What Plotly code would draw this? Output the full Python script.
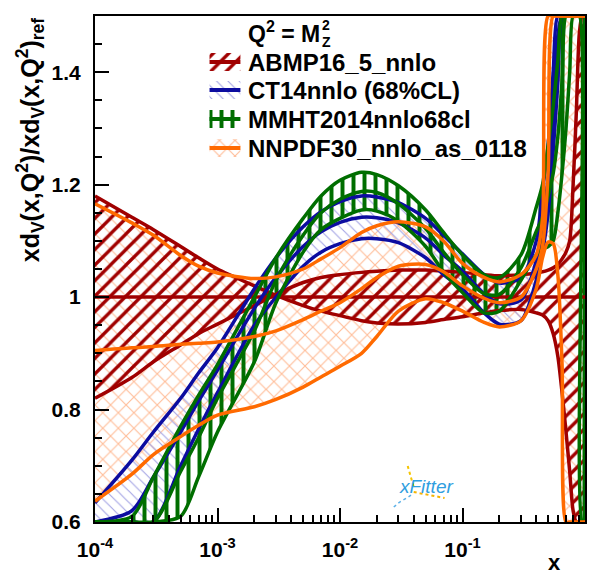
import numpy as np
import plotly.graph_objects as go

# ---------------------------------------------------------------------------
# d-valence ratio to the reference PDF at Q^2 = M_Z^2
# ---------------------------------------------------------------------------
x_grid = [1e-4, 2e-4, 3e-4, 5e-4, 7e-4, 1e-3, 2e-3, 3e-3, 5e-3, 7e-3,
          1e-2, 1.5e-2, 2e-2, 3e-2, 5e-2, 7e-2, 0.1, 0.15, 0.2, 0.3,
          0.4, 0.45, 0.5, 0.55, 0.6, 0.65, 0.7, 0.75, 0.8, 0.85, 0.9, 0.95, 1.0]

# ABMP16 (reference set): two eigenvector envelopes and the central ratio
abmp_edge_a = [1.18, 1.142, 1.12, 1.09, 1.07, 1.05, 1.02, 1.003, 0.985, 0.975,
               0.967, 0.958, 0.954, 0.952, 0.955, 0.96, 0.965, 0.972, 0.976, 0.978,
               0.972, 0.968, 0.958, 0.935, 0.895, 0.83, 0.76, 0.69, 0.62, 0.53, 0.45, 0.35, 0.25]
abmp_edge_b = [0.82, 0.857, 0.885, 0.915, 0.935, 0.952, 0.985, 1.005, 1.026, 1.035,
               1.04, 1.044, 1.046, 1.048, 1.048, 1.046, 1.044, 1.04, 1.038, 1.04,
               1.043, 1.045, 1.048, 1.052, 1.058, 1.068, 1.08, 1.1, 1.2, 1.33, 1.47, 1.62, 1.8]
abmp_central = [1.0, 1.0, 1.0, 1.0, 1.0, 1.0, 1.0, 1.0, 1.0, 1.0,
                1.0, 1.0, 1.0, 1.0, 1.0, 1.0, 1.0, 1.0, 1.0, 1.0,
                1.0, 1.0, 1.0, 1.0, 1.0, 1.0, 1.0, 1.0, 1.0, 1.0, 1.0, 1.0, 1.0]

ct14_upper = [0.634, 0.71, 0.76, 0.82, 0.865, 0.91, 1.015, 1.07, 1.125, 1.152,
              1.17, 1.18, 1.178, 1.168, 1.14, 1.11, 1.077, 1.04, 1.025, 1.035,
              1.1, 1.19, 1.27, 1.4, 1.55, 1.75, 2.0, 2.2, 2.4, 2.6, 2.8, 3.0, 3.2]
ct14_central = [0.54, 0.62, 0.68, 0.76, 0.815, 0.87, 0.98, 1.035, 1.09, 1.116,
                1.133, 1.142, 1.141, 1.132, 1.105, 1.075, 1.046, 1.006, 0.988, 0.995,
                1.065, 1.135, 1.21, 1.33, 1.465, 1.62, 1.85, 2.05, 2.25, 2.45, 2.65, 2.85, 3.0]
ct14_lower = [0.45, 0.53, 0.6, 0.7, 0.765, 0.83, 0.95, 1.0, 1.055, 1.08,
              1.095, 1.104, 1.104, 1.097, 1.07, 1.04, 1.015, 0.972, 0.952, 0.958,
              1.03, 1.08, 1.15, 1.26, 1.38, 1.5, 1.7, 1.9, 2.1, 2.3, 2.5, 2.7, 2.9]

mmht_upper = [0.5, 0.61, 0.68, 0.77, 0.825, 0.88, 1.0, 1.07, 1.14, 1.18,
              1.208, 1.222, 1.218, 1.198, 1.155, 1.115, 1.075, 1.04, 1.035, 1.075,
              1.16, 1.2, 1.27, 1.34, 1.42, 1.55, 1.7, 1.9, 2.1, 2.3, 2.5, 2.7, 2.9]
mmht_central = [0.45, 0.535, 0.6, 0.69, 0.75, 0.82, 0.94, 1.03, 1.11, 1.15,
                1.174, 1.188, 1.186, 1.166, 1.122, 1.08, 1.04, 1.006, 1.005, 1.052,
                1.117, 1.142, 1.18, 1.22, 1.285, 1.385, 1.5, 1.7, 1.9, 2.1, 2.3, 2.5, 2.7]
mmht_lower = [0.4, 0.46, 0.52, 0.61, 0.68, 0.76, 0.885, 0.99, 1.08, 1.12,
              1.14, 1.155, 1.153, 1.135, 1.09, 1.045, 1.008, 0.972, 0.975, 1.03,
              1.075, 1.085, 1.09, 1.1, 1.15, 1.22, 1.3, 1.4, 1.52, 1.7, 1.9, 0.3, 0.2]

nnpdf_upper = [1.166, 1.132, 1.11, 1.074, 1.055, 1.043, 1.033, 1.036, 1.05, 1.068,
               1.088, 1.115, 1.127, 1.134, 1.125, 1.1, 1.06, 1.035, 1.027, 1.04,
               1.075, 1.14, 1.52, 1.9, 2.2, 2.4, 2.6, 2.8, 3.0, 3.2, 3.4, 3.6, 3.8]
nnpdf_central = [0.905, 0.91, 0.912, 0.916, 0.918, 0.92, 0.93, 0.94, 0.96, 0.975,
                 0.99, 1.015, 1.035, 1.055, 1.058, 1.045, 1.02, 0.998, 0.99, 1.0,
                 1.05, 1.09, 1.22, 1.52, 1.9, 2.2, 2.4, 2.6, 2.8, 3.0, 3.2, 3.4, 3.6]
nnpdf_lower = [0.637, 0.685, 0.72, 0.752, 0.772, 0.79, 0.805, 0.818, 0.84, 0.858,
               0.877, 0.9, 0.93, 0.975, 0.997, 0.99, 0.975, 0.955, 0.947, 0.958,
               1.015, 1.07, 1.098, 1.095, 1.04, 0.88, 0.6, 0.4, 0.3, 0.2, 0.1, 0.0, -0.1]

legend_labels = ["ABMP16_5_nnlo", "CT14nnlo (68%CL)", "MMHT2014nnlo68cl", "NNPDF30_nnlo_as_0118"]
x_tick_vals = [1e-4, 1e-3, 1e-2, 1e-1, 1]
x_tick_text = ["10<sup>-4</sup>", "10<sup>-3</sup>", "10<sup>-2</sup>", "10<sup>-1</sup>", "1"]
y_tick_vals = [0.6, 0.8, 1.0, 1.2, 1.4]
y_tick_text = ["0.6", "0.8", "1", "1.2", "1.4"]

Y_MIN, Y_MAX = 0.6, 1.5
FONT = "Liberation Sans"

RED = "#a00000"
BLUE = "#0c0ca0"
GREEN = "#006e00"
ORANGE = "#ff6a00"

sets = {
    "ABMP": dict(a=abmp_edge_a, b=abmp_edge_b, mid=abmp_central, color=RED,
                 pattern=dict(shape="/", fgcolor=RED, size=11, solidity=0.3)),
    "CT14": dict(a=ct14_lower, b=ct14_upper, mid=ct14_central, color=BLUE,
                 pattern=dict(shape="\\", fgcolor="#a4a4e4", size=8, solidity=0.14)),
    "MMHT": dict(a=mmht_lower, b=mmht_upper, mid=mmht_central, color=GREEN,
                 pattern=dict(shape="|", fgcolor=GREEN, size=11, solidity=0.36)),
    "NNPDF": dict(a=nnpdf_lower, b=nnpdf_upper, mid=nnpdf_central, color=ORANGE,
                  pattern=dict(shape="x", fgcolor="#ffbe9a", size=11, solidity=0.2)),
}


def framed(values):
    """Values held inside the frame, so band outlines run along its edge."""
    return np.clip(np.asarray(values, dtype=float), Y_MIN, Y_MAX)


SMOOTH = dict(shape="spline", smoothing=0.8)

# page layout (pixels)
W, H = 591, 578
M_L, M_R, M_T, M_B = 95, 4, 16, 56
PLOT_L, PLOT_R, PLOT_T, PLOT_B = M_L, W - M_R, M_T, H - M_B

fig = go.Figure()

# hatched uncertainty bands
for key in ["NNPDF", "CT14", "ABMP", "MMHT"]:
    s = sets[key]
    fig.add_trace(go.Scatter(x=x_grid, y=framed(s["a"]), mode="lines",
                             line=dict(width=0, **SMOOTH), showlegend=False,
                             hoverinfo="skip"))
    fig.add_trace(go.Scatter(x=x_grid, y=framed(s["b"]), mode="lines",
                             line=dict(width=0, **SMOOTH), fill="tonexty",
                             fillcolor="rgba(0,0,0,0)",
                             fillpattern=dict(fillmode="replace", **s["pattern"]),
                             showlegend=False, hoverinfo="skip"))

# band edges and central ratios
for key in ["ABMP", "CT14", "MMHT", "NNPDF"]:
    s = sets[key]
    for curve in (s["a"], s["mid"], s["b"]):
        fig.add_trace(go.Scatter(x=x_grid, y=framed(curve), mode="lines",
                                 line=dict(color=s["color"], width=3.5, **SMOOTH),
                                 showlegend=False, hoverinfo="skip"))

# legend drawn in page-pixel coordinates on an overlay axis pair
legend_rows = [62, 90, 119, 148]
for key, row in zip(["ABMP", "CT14", "MMHT", "NNPDF"], legend_rows):
    s = sets[key]
    box_x = [210, 241, 241, 210, 210]
    box_y = [row - 9, row - 9, row + 9, row + 9, row - 9]
    fig.add_trace(go.Scatter(x=box_x, y=box_y, xaxis="x2", yaxis="y2", mode="lines",
                             line=dict(width=0), fill="toself",
                             fillcolor="rgba(0,0,0,0)",
                             fillpattern=dict(fillmode="replace", **s["pattern"]),
                             showlegend=False, hoverinfo="skip"))
    fig.add_trace(go.Scatter(x=[210, 241], y=[row, row], xaxis="x2", yaxis="y2",
                             mode="lines", line=dict(color=s["color"], width=4),
                             showlegend=False, hoverinfo="skip"))

# xFitter logo flourishes
fig.add_trace(go.Scatter(x=[409, 411, 413, 415], y=[466, 473, 480, 487], xaxis="x2", yaxis="y2",
                         mode="lines", line=dict(color="#f5c400", width=2, dash="dot"),
                         showlegend=False, hoverinfo="skip"))
fig.add_trace(go.Scatter(x=[415, 425, 437, 446], y=[492, 494, 496, 498], xaxis="x2", yaxis="y2",
                         mode="lines", line=dict(color="#f5b400", width=2, dash="dot"),
                         showlegend=False, hoverinfo="skip"))
fig.add_trace(go.Scatter(x=[395, 401, 408, 414], y=[507, 502, 498, 494], xaxis="x2", yaxis="y2",
                         mode="lines", line=dict(color="#5ab0e8", width=1.5, dash="dot"),
                         showlegend=False, hoverinfo="skip"))


def page_x(px):
    return (px - PLOT_L) / (PLOT_R - PLOT_L)


def page_y(py):
    return (PLOT_B - py) / (PLOT_B - PLOT_T)


annotations = []
for label, row in zip(legend_labels, legend_rows):
    annotations.append(dict(x=247, y=row, xref="x2", yref="y2", text=label,
                            showarrow=False, xanchor="left", yanchor="middle",
                            font=dict(family=FONT, size=24, color="black", weight="bold")))

annotations += [
    dict(x=247, y=32, xref="x2", yref="y2", text="Q<sup>2</sup> = M",
         showarrow=False, xanchor="left", yanchor="middle",
         font=dict(family=FONT, size=23, color="black", weight="bold")),
    dict(x=321, y=25, xref="x2", yref="y2", text="2", showarrow=False,
         xanchor="left", yanchor="middle",
         font=dict(family=FONT, size=14, color="black", weight="bold")),
    dict(x=321, y=42, xref="x2", yref="y2", text="Z", showarrow=False,
         xanchor="left", yanchor="middle",
         font=dict(family=FONT, size=14, color="black", weight="bold")),
    # axis titles
    dict(x=page_x(30), y=page_y(140), xref="paper", yref="paper", textangle=-90,
         text="xd<sub>V</sub>(x,Q<sup>2</sup>)/xd<sub>V</sub>(x,Q<sup>2</sup>)<sub>ref</sub>",
         showarrow=False, xanchor="center", yanchor="middle",
         font=dict(family=FONT, size=25, color="black", weight="bold")),
    dict(x=page_x(556), y=page_y(562), xref="paper", yref="paper", text="x",
         showarrow=False, xanchor="center", yanchor="middle",
         font=dict(family=FONT, size=22, color="black", weight="bold")),
    # program logo
    dict(x=427, y=486, xref="x2", yref="y2", text="<i>xFitter</i>", showarrow=False,
         xanchor="center", yanchor="middle",
         font=dict(family=FONT, size=19, color="#2f9ee0")),
]

minor_x = [m * 10.0 ** e for e in range(-4, 0) for m in range(2, 10)]

fig.update_layout(
    width=W, height=H,
    margin=dict(l=M_L, r=M_R, t=M_T, b=M_B),
    paper_bgcolor="white", plot_bgcolor="white",
    xaxis=dict(type="log", range=[-4, 0], showgrid=False, zeroline=False,
               showline=True, linecolor="black", linewidth=2, mirror=True,
               ticks="inside", ticklen=14, tickwidth=1.5, tickcolor="black",
               tickmode="array", tickvals=x_tick_vals, ticktext=x_tick_text,
               ticklabelstandoff=8,
               tickfont=dict(family=FONT, size=21, color="black", weight="bold"),
               minor=dict(tickmode="array", tickvals=minor_x, ticks="inside",
                          ticklen=7, tickwidth=1.5, tickcolor="black", showgrid=False)),
    yaxis=dict(range=[Y_MIN, Y_MAX], showgrid=False, zeroline=False,
               showline=True, linecolor="black", linewidth=2, mirror=True,
               ticks="inside", ticklen=14, tickwidth=1.5, tickcolor="black",
               tickmode="array", tickvals=y_tick_vals, ticktext=y_tick_text,
               ticklabelstandoff=8,
               tickfont=dict(family=FONT, size=21, color="black", weight="bold"),
               minor=dict(tick0=0.6, dtick=0.05, ticks="inside", ticklen=7,
                          tickwidth=1.5, tickcolor="black", showgrid=False)),
    xaxis2=dict(overlaying="x", anchor="y2", range=[PLOT_L, PLOT_R], visible=False),
    yaxis2=dict(overlaying="y", anchor="x2", range=[PLOT_B, PLOT_T], visible=False),
    annotations=annotations,
)

fig.write_html("out.html")
